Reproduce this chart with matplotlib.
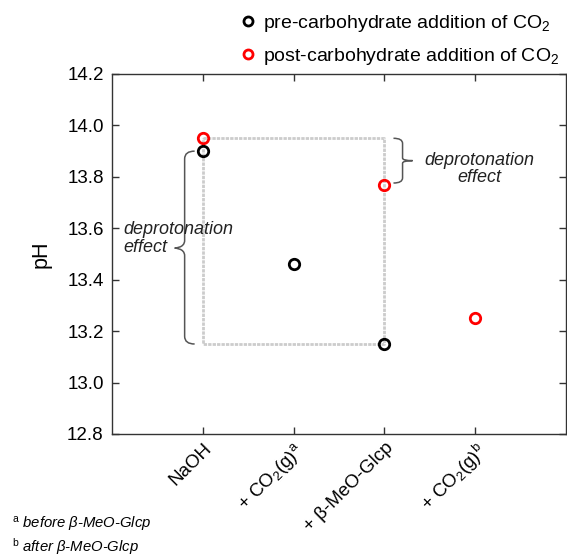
import matplotlib
matplotlib.use("Agg")
import matplotlib.pyplot as plt
from matplotlib.lines import Line2D
from matplotlib.path import Path
from matplotlib.patches import PathPatch

plt.rcParams['font.family'] = ['Liberation Sans', 'DejaVu Sans']
plt.rcParams['mathtext.fontset'] = 'custom'
plt.rcParams['mathtext.rm'] = 'Liberation Sans'
plt.rcParams['mathtext.it'] = 'Liberation Sans:italic'

# ---- data ----
categories = ['NaOH', '+ CO$_2$(g)$^\\mathrm{a}$', '+ β-MeO-Glcp', '+ CO$_2$(g)$^\\mathrm{b}$']
pre_x = [0, 1, 2]
pre_ph = [13.90, 13.46, 13.15]
post_x = [0, 2, 3]
post_ph = [13.95, 13.77, 13.25]
yticks = [12.8, 13.0, 13.2, 13.4, 13.6, 13.8, 14.0, 14.2]
box_x = [0, 2, 2, 0, 0]
box_y = [13.95, 13.95, 13.15, 13.15, 13.95]

fig = plt.figure(figsize=(5.67, 5.57), dpi=100)
ax = fig.add_axes([112/567, 1-434/557, (566-112)/567, (434-74)/557])

ax.plot(box_x, box_y, color='#cccccc', lw=2.0, ls=(0, (1.2, 0.4)), zorder=1)

ax.plot(pre_x, pre_ph, ls='none', marker='o', ms=7.5, mfc='none', mec='black', mew=2.0, zorder=3)
ax.plot(post_x, post_ph, ls='none', marker='o', ms=7.5, mfc='none', mec='#ff0000', mew=2.0, zorder=3)

ax.set_xlim(-1, 4)
ax.set_ylim(12.8, 14.2)
ax.set_xticks(range(len(categories)))
ax.set_xticklabels(categories, rotation=45, ha='right', va='top', rotation_mode='anchor', fontsize=13.5)
ax.set_yticks(yticks)
ax.set_yticklabels([f'{v:.1f}' for v in yticks], fontsize=13.5)
ax.tick_params(direction='in', top=True, right=True, length=5, width=1, color='#333333')
ax.tick_params(axis='x', pad=4)
ax.tick_params(axis='y', pad=6)
for s in ax.spines.values():
    s.set_color('#333333')
    s.set_linewidth(1)
ax.set_ylabel('pH', fontsize=15.5, labelpad=11)

# left curly brace
xb, ye0, ye1, ym = -0.2, 13.15, 13.90, 13.523
verts = [(-0.09, ye1), (xb, ye1), (xb, ye1 - 0.03),
         (xb, ym + 0.03),
         (xb, ym), (-0.31, ym), (-0.31, ym),
         (-0.31, ym), (xb, ym), (xb, ym - 0.03),
         (xb, ye0 + 0.03),
         (xb, ye0), (-0.09, ye0)]
codes = [Path.MOVETO, Path.CURVE3, Path.CURVE3,
         Path.LINETO,
         Path.CURVE4, Path.CURVE4, Path.CURVE4,
         Path.CURVE4, Path.CURVE4, Path.CURVE4,
         Path.LINETO,
         Path.CURVE3, Path.CURVE3]
ax.add_patch(PathPatch(Path(verts, codes), fill=False, ec='#555555', lw=1.1, zorder=2))
ax.text(-0.88, 13.56, 'deprotonation\neffect', ha='left', va='center', fontsize=13,
        style='italic', color='#222222', linespacing=1.1)

# right brace
xr, yt, yb = 2.2, 13.95, 13.776
ymr = (yt + yb) / 2
verts2 = [(2.1, yt), (xr, yt), (xr, yt - 0.02),
          (xr, ymr + 0.01), (xr, ymr), (2.31, ymr),
          (2.31, ymr), (xr, ymr), (xr, ymr - 0.01),
          (xr, yb + 0.02), (xr, yb), (2.1, yb)]
codes2 = [Path.MOVETO, Path.CURVE3, Path.CURVE3,
          Path.LINETO, Path.CURVE3, Path.CURVE3,
          Path.MOVETO, Path.CURVE3, Path.CURVE3,
          Path.LINETO, Path.CURVE3, Path.CURVE3]
ax.add_patch(PathPatch(Path(verts2, codes2), fill=False, ec='#555555', lw=1.1, zorder=2))
ax.text(3.05, 13.83, 'deprotonation\neffect', ha='center', va='center', fontsize=13,
        style='italic', color='#222222', linespacing=1.0)

handles = [Line2D([], [], ls='none', marker='o', ms=6.5, mfc='none', mec='black', mew=2.0),
           Line2D([], [], ls='none', marker='o', ms=6.5, mfc='none', mec='#ff0000', mew=2.0)]
fig.legend(handles, ['pre-carbohydrate addition of CO$_2$', 'post-carbohydrate addition of CO$_2$'],
           loc='upper left', bbox_to_anchor=(238/567, 1 - 13/557), frameon=False, fontsize=14,
           handlelength=1.0, handletextpad=0.3, labelspacing=0.6, borderpad=0, borderaxespad=0)

fig.text(12/567, 1 - 524/557, '$^\\mathrm{a}$ before β-MeO-Glcp', fontsize=10.7, style='italic', va='center')
fig.text(12/567, 1 - 547/557, '$^\\mathrm{b}$ after β-MeO-Glcp', fontsize=10.7, style='italic', va='center')

fig.savefig('out.png', dpi=100)
